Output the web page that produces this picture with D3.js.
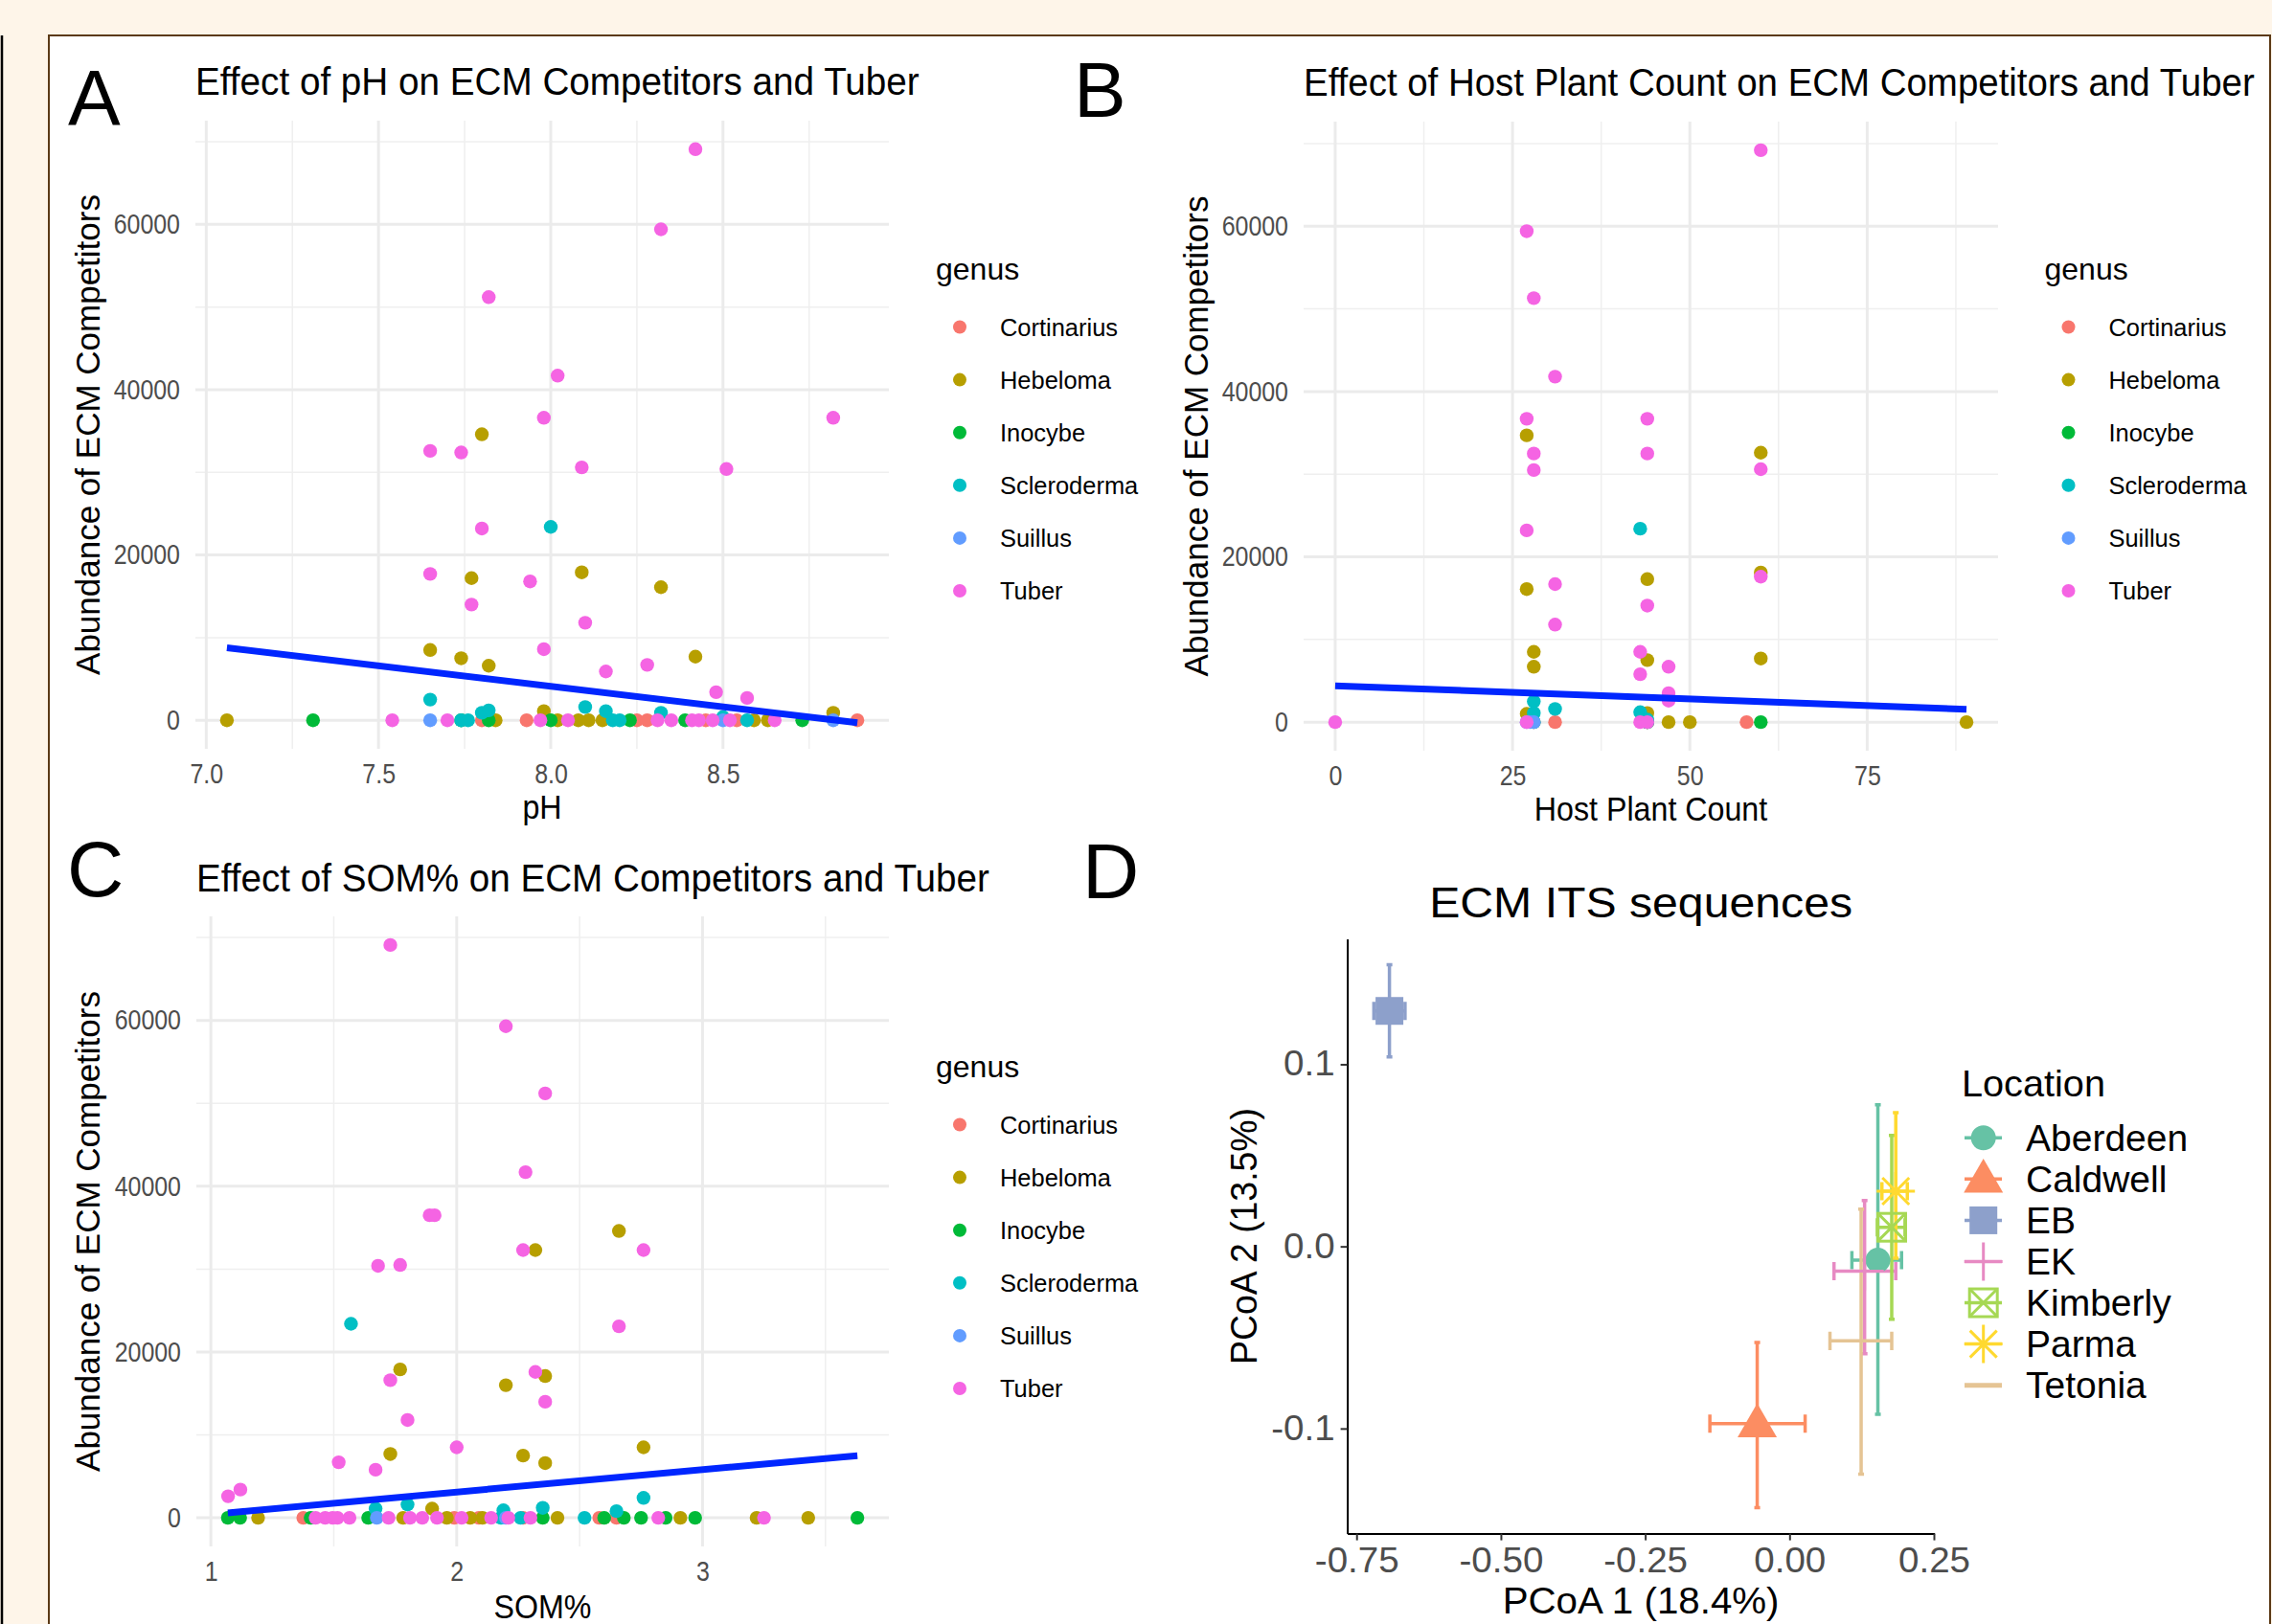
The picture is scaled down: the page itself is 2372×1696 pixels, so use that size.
<!DOCTYPE html>
<html><head><meta charset="utf-8">
<script src="https://cdn.jsdelivr.net/npm/d3@7/dist/d3.min.js"></script>
<style>
body{margin:0;background:#FEF5E9;}
text{font-family:"Liberation Sans",Arial,Helvetica,sans-serif;}
</style>
</head><body>
<svg id="c" width="2372" height="1696"></svg>
<script>
// ---------- DATA ----------
const genera = ["Cortinarius","Hebeloma","Inocybe","Scleroderma","Suillus","Tuber"];
const genusColors = ["#F8766D","#B79F00","#00BA38","#00BFC4","#619CFF","#F564E3"];
const abundanceTicks = [0,20000,40000,60000];
const abundanceMinor = [10000,30000,50000,70000];
const phTicks = [7.0,7.5,8.0,8.5];
const phMinor = [7.25,7.75,8.25,8.75];
const hostTicks = [0,25,50,75];
const hostMinor = [12.5,37.5,62.5,87.5];
const somTicks = [1,2,3];
const somMinor = [1.5,2.5,3.5];

// [genus, pH, abundance]
const phPoints = [
 ["Cortinarius",7.80,0],["Cortinarius",7.93,0],["Cortinarius",8.25,0],["Cortinarius",8.28,0],["Cortinarius",8.45,0],["Cortinarius",8.54,0],["Cortinarius",8.89,0],
 ["Hebeloma",7.80,34600],["Hebeloma",7.77,17200],["Hebeloma",8.09,17900],["Hebeloma",8.32,16100],["Hebeloma",7.65,8500],["Hebeloma",7.74,7500],["Hebeloma",7.82,6600],["Hebeloma",8.42,7700],["Hebeloma",7.98,1100],["Hebeloma",8.82,900],
 ["Hebeloma",7.06,0],["Hebeloma",7.84,0],["Hebeloma",8.02,0],["Hebeloma",8.08,0],["Hebeloma",8.11,0],["Hebeloma",8.15,0],["Hebeloma",8.59,0],["Hebeloma",8.63,0],
 ["Inocybe",7.31,0],["Inocybe",7.74,0],["Inocybe",7.82,0],["Inocybe",8.00,0],["Inocybe",8.23,0],["Inocybe",8.39,0],["Inocybe",8.73,0],
 ["Scleroderma",8.00,23400],["Scleroderma",7.65,2500],["Scleroderma",8.10,1600],["Scleroderma",8.16,1100],["Scleroderma",8.32,900],["Scleroderma",7.80,900],["Scleroderma",7.82,1200],["Scleroderma",8.50,400],
 ["Scleroderma",7.74,0],["Scleroderma",7.76,0],["Scleroderma",8.18,0],["Scleroderma",8.20,0],["Scleroderma",8.57,0],
 ["Suillus",7.65,0],["Suillus",8.50,0],["Suillus",8.82,0],
 ["Tuber",8.42,69100],["Tuber",8.32,59400],["Tuber",7.82,51200],["Tuber",8.02,41700],["Tuber",7.98,36600],["Tuber",8.82,36600],["Tuber",7.65,32600],["Tuber",7.74,32400],["Tuber",8.09,30600],["Tuber",8.51,30400],
 ["Tuber",7.80,23200],["Tuber",7.65,17700],["Tuber",7.94,16800],["Tuber",7.77,14000],["Tuber",8.10,11800],["Tuber",7.98,8600],["Tuber",8.16,5900],["Tuber",8.28,6700],["Tuber",8.48,3400],["Tuber",8.57,2700],
 ["Tuber",7.54,0],["Tuber",7.70,0],["Tuber",7.97,0],["Tuber",8.05,0],["Tuber",8.31,0],["Tuber",8.35,0],["Tuber",8.41,0],["Tuber",8.43,0],["Tuber",8.47,0],["Tuber",8.52,0],["Tuber",8.65,0]
];
// [genus, host plant count, abundance]
const hostPoints = [
 ["Cortinarius",31,0],["Cortinarius",58,0],["Cortinarius",44,0],
 ["Hebeloma",27,34700],["Hebeloma",60,32600],["Hebeloma",60,18100],["Hebeloma",44,17300],["Hebeloma",27,16100],["Hebeloma",28,8500],["Hebeloma",28,6700],["Hebeloma",44,7500],["Hebeloma",60,7700],["Hebeloma",27,1000],["Hebeloma",44,1100],
 ["Hebeloma",47,0],["Hebeloma",50,0],["Hebeloma",89,0],["Hebeloma",44,0],["Hebeloma",28,0],
 ["Inocybe",60,0],["Inocybe",44,0],
 ["Scleroderma",43,23400],["Scleroderma",28,2500],["Scleroderma",31,1600],["Scleroderma",28,1100],["Scleroderma",43,1200],["Scleroderma",44,300],["Scleroderma",28,0],["Scleroderma",44,0],
 ["Suillus",27,0],["Suillus",28,0],["Suillus",27.5,0],
 ["Tuber",60,69200],["Tuber",27,59400],["Tuber",28,51300],["Tuber",31,41800],["Tuber",27,36700],["Tuber",44,36700],["Tuber",28,32500],["Tuber",44,32500],["Tuber",28,30500],["Tuber",60,30600],
 ["Tuber",27,23200],["Tuber",31,16700],["Tuber",60,17600],["Tuber",44,14100],["Tuber",31,11800],["Tuber",43,8500],["Tuber",43,5800],["Tuber",47,6700],["Tuber",47,3500],["Tuber",47,2600],
 ["Tuber",0,0],["Tuber",43,0],["Tuber",27,0],["Tuber",44,0]
];
// [genus, SOM%, abundance]
const somPoints = [
 ["Cortinarius",1.376,0],["Cortinarius",1.99,0],["Cortinarius",2.09,0],["Cortinarius",2.27,0],["Cortinarius",2.58,0],["Cortinarius",2.65,0],
 ["Hebeloma",2.66,34600],["Hebeloma",2.32,32300],["Hebeloma",1.77,17900],["Hebeloma",2.36,17100],["Hebeloma",2.20,16000],["Hebeloma",1.73,7700],["Hebeloma",2.27,7500],["Hebeloma",2.36,6600],["Hebeloma",2.76,8500],["Hebeloma",1.90,1100],
 ["Hebeloma",1.192,0],["Hebeloma",1.782,0],["Hebeloma",1.96,0],["Hebeloma",2.055,0],["Hebeloma",2.105,0],["Hebeloma",2.41,0],["Hebeloma",2.91,0],["Hebeloma",3.22,0],["Hebeloma",3.43,0],
 ["Inocybe",1.069,0],["Inocybe",1.119,0],["Inocybe",1.406,0],["Inocybe",1.64,0],["Inocybe",2.35,0],["Inocybe",2.60,0],["Inocybe",2.68,0],["Inocybe",2.75,0],["Inocybe",2.85,0],["Inocybe",2.97,0],["Inocybe",3.63,0],
 ["Scleroderma",1.57,23400],["Scleroderma",2.76,2400],["Scleroderma",1.80,1600],["Scleroderma",1.67,1100],["Scleroderma",2.19,900],["Scleroderma",2.35,1200],["Scleroderma",2.65,800],
 ["Scleroderma",2.18,0],["Scleroderma",2.26,0],["Scleroderma",2.52,0],
 ["Suillus",1.675,0],["Suillus",2.20,0],
 ["Tuber",1.73,69100],["Tuber",2.20,59300],["Tuber",2.36,51200],["Tuber",2.28,41700],["Tuber",1.89,36500],["Tuber",1.91,36500],["Tuber",1.68,30400],["Tuber",1.77,30500],["Tuber",2.27,32300],["Tuber",2.76,32300],
 ["Tuber",2.66,23100],["Tuber",1.73,16600],["Tuber",2.32,17600],["Tuber",2.36,14000],["Tuber",1.80,11800],["Tuber",2.00,8500],["Tuber",1.52,6700],["Tuber",1.67,5800],["Tuber",1.07,2600],["Tuber",1.12,3400],
 ["Tuber",1.426,0],["Tuber",1.465,0],["Tuber",1.495,0],["Tuber",1.515,0],["Tuber",1.564,0],["Tuber",1.723,0],["Tuber",1.81,0],["Tuber",1.86,0],["Tuber",1.92,0],["Tuber",2.02,0],["Tuber",2.14,0],["Tuber",2.21,0],["Tuber",2.30,0],["Tuber",2.82,0],["Tuber",3.25,0]
];
// fitted regression line end points
const phFit = [[7.06,8780],[8.89,-300]];
const hostFit = [[0,4400],[89,1550]];
const somFit = [[1.069,600],[3.63,7500]];

// Panel D (PCoA)
const locations = ["Aberdeen","Caldwell","EB","EK","Kimberly","Parma","Tetonia"];
const locationColors = ["#66C2A5","#FC8D62","#8DA0CB","#E78AC3","#A6D854","#FFD92F","#E5C494"];
const locationShapes = ["circle","triangle","square","plus","squarecross","asterisk","none"];
const pcoa1 = [0.153,-0.056,-0.693,0.130,0.177,0.184,0.124];
const pcoa2 = [-0.0076,-0.0973,0.1293,-0.0136,0.0105,0.0303,-0.0519];
const pcoa1Low = [0.108,-0.138,-0.720,0.077,0.152,0.160,0.070];
const pcoa1High = [0.194,0.027,-0.666,0.184,0.200,0.204,0.177];
const pcoa2Low = [-0.0922,-0.1435,0.1041,-0.0590,-0.0400,-0.0065,-0.1250];
const pcoa2High = [0.0777,-0.0528,0.1546,0.0252,0.0610,0.0734,0.0204];
const pcoa1Ticks = [-0.75,-0.50,-0.25,0.00,0.25];
const pcoa2Ticks = [-0.1,0.0,0.1];

// ---------- DRAW ----------
const svg = d3.select("#c");
const FONT = '"Liberation Sans",Arial,Helvetica,sans-serif';
svg.append("rect").attr("width",2372).attr("height",1696).attr("fill","#FEF5E9");
svg.append("line").attr("x1",2).attr("x2",2).attr("y1",37).attr("y2",1696).attr("stroke","#000").attr("stroke-width",2.5);
svg.append("rect").attr("x",51).attr("y",37).attr("width",2319).attr("height",1700)
  .attr("fill","#fff").attr("stroke","#5B3A16").attr("stroke-width",2);

function condense(sel, f){
  sel.each(function(){
    const l = this.getComputedTextLength();
    d3.select(this).attr("textLength", l*f).attr("lengthAdjust","spacingAndGlyphs");
  });
}
// place a text at (x,y) and scale it horizontally so that it is `len` wide
function scaledText(parent, x, y, size, str, len, anchor){
  const gg = parent.append("g");
  const t = gg.append("text").attr("font-size",size).attr("text-anchor",anchor||"start").text(str);
  const w = t.node().getComputedTextLength();
  gg.attr("transform",`translate(${x},${y}) scale(${len/w},1)`);
  return gg;
}
function hyphenFmt(spec){ const f = d3.format(spec); return d => f(d).replace("\u2212","-"); }

const color = d3.scaleOrdinal().domain(genera).range(genusColors);

function expand(ext){ const r = ext[1]-ext[0]; return [ext[0]-0.05*r, ext[1]+0.05*r]; }

function scatterPanel(o){
  const g = svg.append("g");
  const x = d3.scaleLinear().domain(expand(d3.extent(o.data, d=>d[1]))).range([o.x0,o.x1]);
  const y = d3.scaleLinear().domain(expand(d3.extent(o.data, d=>d[2]))).range([o.y1,o.y0]);
  const grid = g.append("g");
  grid.selectAll(".xm").data(o.xMinor).join("line").attr("x1",d=>x(d)).attr("x2",d=>x(d)).attr("y1",o.y0).attr("y2",o.y1).attr("stroke","#EFEFEF").attr("stroke-width",1.5);
  grid.selectAll(".ym").data(abundanceMinor).join("line").attr("y1",d=>y(d)).attr("y2",d=>y(d)).attr("x1",o.x0).attr("x2",o.x1).attr("stroke","#EFEFEF").attr("stroke-width",1.5);
  grid.selectAll(".xM").data(o.xTicks).join("line").attr("x1",d=>x(d)).attr("x2",d=>x(d)).attr("y1",o.y0).attr("y2",o.y1).attr("stroke","#EBEBEB").attr("stroke-width",3);
  grid.selectAll(".yM").data(abundanceTicks).join("line").attr("y1",d=>y(d)).attr("y2",d=>y(d)).attr("x1",o.x0).attr("x2",o.x1).attr("stroke","#EBEBEB").attr("stroke-width",3);
  g.append("g").selectAll("circle").data(o.data).join("circle")
    .attr("cx",d=>x(d[1])).attr("cy",d=>y(d[2])).attr("r",7.2).attr("fill",d=>color(d[0]));
  g.append("path").datum(o.fit).attr("d",d3.line().x(d=>x(d[0])).y(d=>y(d[1])))
    .attr("stroke","#0026FF").attr("stroke-width",7).attr("fill","none");
  const ax = g.append("g").attr("transform",`translate(0,${o.y1})`)
    .call(d3.axisBottom(x).tickValues(o.xTicks).tickSize(0).tickFormat(o.xFmt));
  ax.select(".domain").remove();
  ax.selectAll("text").attr("y",36).attr("dy",null).attr("font-size",29).attr("fill","#4D4D4D").attr("font-family",FONT);
  condense(ax.selectAll("text"),0.86);
  const ay = g.append("g").attr("transform",`translate(${o.x0},0)`)
    .call(d3.axisLeft(y).tickValues(abundanceTicks).tickSize(0).tickPadding(16).tickFormat(d3.format("d")));
  ay.select(".domain").remove();
  ay.selectAll("text").attr("font-size",29).attr("fill","#4D4D4D").attr("font-family",FONT);
  condense(ay.selectAll("text"),0.86);
  scaledText(g, o.x0, o.titleY, 40, o.title, o.titleLen);
  const xt = g.append("text").attr("x",(o.x0+o.x1)/2).attr("y",o.xTitleY).attr("text-anchor","middle").attr("font-size",35).text(o.xLabel);
  condense(xt,0.92);
  g.append("text").attr("transform",`translate(${o.yTitleX},${(o.y0+o.y1)/2}) rotate(-90)`)
    .attr("text-anchor","middle").attr("font-size",35).text("Abundance of ECM Competitors");
  const lg = g.append("g").attr("transform",`translate(${o.legX},${o.legY})`);
  lg.append("text").attr("x",0).attr("y",0).attr("font-size",32).text("genus");
  const it = lg.selectAll(".it").data(genera).join("g").attr("transform",(d,i)=>`translate(0,${49.5+i*55.1})`);
  it.append("circle").attr("cx",25).attr("cy",0).attr("r",7).attr("fill",d=>color(d));
  const lt = it.append("text").attr("x",67).attr("y",0).attr("dy","0.35em").attr("font-size",26.5).text(d=>d);
  condense(lt,0.96);
  svg.append("text").attr("x",o.letterX).attr("y",o.letterY).attr("font-size",82).text(o.letter);
}

scatterPanel({data:phPoints, fit:phFit, x0:204, x1:928, y0:126, y1:782, xTicks:phTicks, xMinor:phMinor, xFmt:d3.format(".1f"),
  title:"Effect of pH on ECM Competitors and Tuber", titleY:99, titleLen:756, xLabel:"pH", xTitleY:855, yTitleX:104,
  legX:977, legY:292, letter:"A", letterX:71, letterY:130});
scatterPanel({data:hostPoints, fit:hostFit, x0:1361, x1:2086, y0:127, y1:784, xTicks:hostTicks, xMinor:hostMinor, xFmt:d3.format("d"),
  title:"Effect of Host Plant Count on ECM Competitors and Tuber", titleY:100, titleLen:993, xLabel:"Host Plant Count", xTitleY:857, yTitleX:1261,
  legX:2134.5, legY:292, letter:"B", letterX:1121, letterY:122});
scatterPanel({data:somPoints, fit:somFit, x0:205, x1:928, y0:957, y1:1615, xTicks:somTicks, xMinor:somMinor, xFmt:d3.format("d"),
  title:"Effect of SOM% on ECM Competitors and Tuber", titleY:931, titleLen:828, xLabel:"SOM%", xTitleY:1690, yTitleX:104,
  legX:977, legY:1125, letter:"C", letterX:70, letterY:936});

// ---------- Panel D ----------
(function(){
  const x0=1406.6, x1=2019.6, y0=980.6, y1=1601.6;
  const g = svg.append("g");
  const x = d3.scaleLinear().domain([-0.766,0.251]).range([x0,x1]);
  const y = d3.scaleLinear().domain([-0.1577,0.1688]).range([y1,y0]);
  const idx = d3.range(locations.length);
  const capX = 0.01, capY = 0.01;
  const eb = g.append("g").attr("stroke-width",3.5).attr("fill","none");
  idx.forEach(i=>{
    const c = locationColors[i];
    eb.append("path").attr("stroke",c).attr("d",
      `M${x(pcoa1[i]-capX/2)},${y(pcoa2High[i])}H${x(pcoa1[i]+capX/2)}M${x(pcoa1[i])},${y(pcoa2High[i])}V${y(pcoa2Low[i])}M${x(pcoa1[i]-capX/2)},${y(pcoa2Low[i])}H${x(pcoa1[i]+capX/2)}`);
    eb.append("path").attr("stroke",c).attr("d",
      `M${x(pcoa1Low[i])},${y(pcoa2[i]+capY/2)}V${y(pcoa2[i]-capY/2)}M${x(pcoa1Low[i])},${y(pcoa2[i])}H${x(pcoa1High[i])}M${x(pcoa1High[i])},${y(pcoa2[i]+capY/2)}V${y(pcoa2[i]-capY/2)}`);
  });
  function symbol(sel, shape, c){
    if(shape==="circle") sel.append("circle").attr("r",13).attr("fill",c);
    else if(shape==="triangle"){ const s=41,h=s*0.866; sel.append("path").attr("d",`M0,${-h*0.6}L${s/2},${h*0.4}L${-s/2},${h*0.4}Z`).attr("fill",c); }
    else if(shape==="square") sel.append("rect").attr("x",-14.5).attr("y",-14.5).attr("width",29).attr("height",29).attr("fill",c);
    else if(shape==="plus") sel.append("path").attr("d","M-20,0H20M0,-20V20").attr("stroke",c).attr("stroke-width",3);
    else if(shape==="squarecross"){ sel.append("rect").attr("x",-14.5).attr("y",-14.5).attr("width",29).attr("height",29).attr("fill","none").attr("stroke",c).attr("stroke-width",3);
      sel.append("path").attr("d","M-14.5,-14.5L14.5,14.5M14.5,-14.5L-14.5,14.5").attr("stroke",c).attr("stroke-width",3); }
    else if(shape==="asterisk") sel.append("path").attr("d","M-20,0H20M0,-20V20M-14,-14L14,14M14,-14L-14,14").attr("stroke",c).attr("stroke-width",3);
  }
  idx.forEach(i=>{
    const s = g.append("g").attr("transform",`translate(${x(pcoa1[i])},${y(pcoa2[i])})`);
    symbol(s, locationShapes[i], locationColors[i]);
  });
  const ax = g.append("g").attr("transform",`translate(0,${y1})`)
    .call(d3.axisBottom(x).tickValues(pcoa1Ticks).tickSize(7).tickSizeOuter(0).tickFormat(hyphenFmt(".2f")));
  ax.select(".domain").attr("stroke","#000").attr("stroke-width",2);
  ax.selectAll(".tick line").attr("stroke","#333").attr("stroke-width",2);
  ax.selectAll("text").attr("y",40).attr("dy",null).attr("font-size",36).attr("fill","#4D4D4D").attr("font-family",FONT);
  condense(ax.selectAll("text"),1.07);
  const ay = g.append("g").attr("transform",`translate(${x0},0)`)
    .call(d3.axisLeft(y).tickValues(pcoa2Ticks).tickSize(7).tickSizeOuter(0).tickPadding(6).tickFormat(hyphenFmt(".1f")));
  ay.select(".domain").attr("stroke","#000").attr("stroke-width",2);
  ay.selectAll(".tick line").attr("stroke","#333").attr("stroke-width",2);
  ay.selectAll("text").attr("font-size",36).attr("fill","#4D4D4D").attr("font-family",FONT);
  condense(ay.selectAll("text"),1.07);
  scaledText(g, (x0+x1)/2, 958, 45, "ECM ITS sequences", 442, "middle");
  scaledText(g, (x0+x1)/2, 1685, 38, "PCoA 1 (18.4%)", 289, "middle");
  g.append("text").attr("transform",`translate(1312,1291) rotate(-90)`).attr("text-anchor","middle").attr("font-size",38)
    .attr("textLength",268).attr("lengthAdjust","spacingAndGlyphs").text("PCoA 2 (13.5%)");
  const lg = g.append("g").attr("transform","translate(2048,1145)");
  scaledText(lg, 0, 0, 39, "Location", 150);
  idx.forEach(i=>{
    const it = lg.append("g").attr("transform",`translate(0,${43.3+i*43.06})`);
    it.append("path").attr("d","M3,0H42").attr("stroke",locationColors[i]).attr("stroke-width",i===6?5:3.5);
    const s = it.append("g").attr("transform","translate(22.7,0)");
    symbol(s, locationShapes[i], locationColors[i]);
    it.append("text").attr("x",67).attr("y",0).attr("dy","0.35em").attr("font-size",39).text(locations[i]);
  });
  svg.append("text").attr("x",1130).attr("y",938).attr("font-size",82).text("D");
})();
</script>
</body></html>
